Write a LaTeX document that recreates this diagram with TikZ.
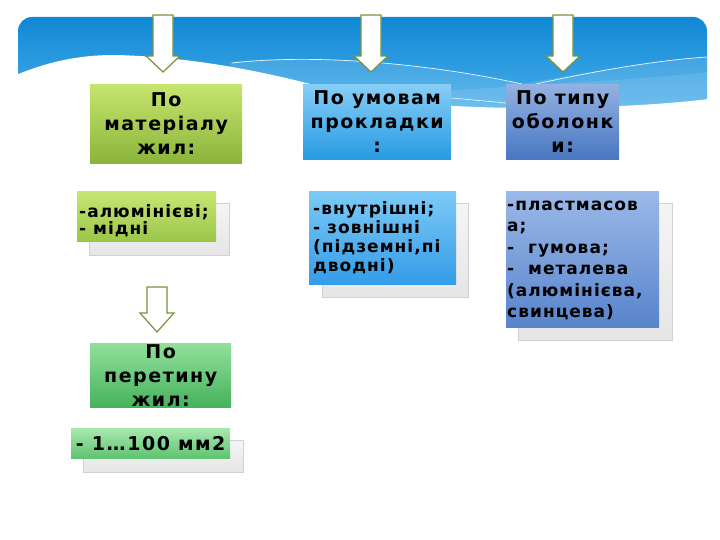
\documentclass[tikz,border=0pt]{standalone}
\usepackage{fontspec}
\setmainfont[LetterSpace=6]{DejaVu Sans}
\usetikzlibrary{shadings}
\definecolor{arrowline}{HTML}{77933C}
\definecolor{bannertop}{HTML}{1088D4}
\definecolor{bannerbot}{HTML}{4AAFEB}
\newcommand{\firstline}{\rule{0pt}{13pt}}
\tikzset{
  hdr/.style={rectangle, inner sep=0pt, anchor=north west, align=center,
    font=\bfseries\fontsize{19}{24}\selectfont\addfontfeatures{LetterSpace=8}, text=black},
  itembox/.style={rectangle, inner sep=0pt, anchor=north west},
  itemtext/.style={inner sep=0pt, anchor=north west, align=left, text=black},
  ghost/.style={rectangle, inner sep=0pt, anchor=north west, draw=black!18, line width=0.8pt,
    top color=black!4, bottom color=black!10},
  blockarrow/.style={draw=arrowline, fill=white, line width=1.2pt, line join=miter}
}
\newcommand{\blkarrow}[4]{% x center, y top, y shaft end, y tip
  \draw[blockarrow] (#1-10,#2) -- (#1+10,#2) -- (#1+10,#3) -- (#1+17,#3) -- (#1,#4)
    -- (#1-17,#3) -- (#1-10,#3) -- cycle;}
\begin{document}
\begin{tikzpicture}[x=1pt,y=-1pt]
\useasboundingbox (0,0) rectangle (720,540);
\fill[white] (0,0) rectangle (720,540);
% banner
\shade[top color=bannertop, bottom color=bannerbot, rounded corners=14pt]
  (18,112) -- (18,17) -- (707,17) -- (707,112) [sharp corners] -- cycle;
% lighter bands
\fill[white, opacity=0.12] (230,62) .. controls (350,52) and (450,70) .. (522,84)
  .. controls (600,70) and (660,60) .. (707,57) -- (707,112) -- (230,112) -- cycle;
\fill[white, opacity=0.10] (400,95) .. controls (500,85) and (620,82) .. (707,72) -- (707,112) -- (400,112) -- cycle;
\draw[white, line width=0.7pt, opacity=0.9] (232,63) .. controls (330,52) and (450,68) .. (522,84);
\draw[white, line width=0.7pt, opacity=0.9] (536,84) .. controls (600,70) and (660,60) .. (707,57);
\draw[white, line width=0.7pt, opacity=0.8] (451,98) .. controls (520,104) and (600,112) .. (650,117);
% white wave at the lower left and the bottom edge
\fill[white] (16,75) .. controls (50,61) and (80,55) .. (115,55)
  .. controls (200,57) and (280,75) .. (340,92)
  .. controls (420,112) and (600,112) .. (709,99) -- (709,125) -- (16,125) -- cycle;
% top arrows
\blkarrow{163}{15}{56}{72}
\blkarrow{371}{15}{56}{72}
\blkarrow{563}{15}{56}{72}
% headers
\node[hdr, top color={rgb,255:red,198;green,229;blue,110},
  bottom color={rgb,255:red,140;green,180;blue,58},
  minimum width=152pt, minimum height=79pt] (h1) at (90,84) {По\\матеріалу\\жил:};
\node[hdr, top color={rgb,255:red,135;green,206;blue,246},
  bottom color={rgb,255:red,40;green,155;blue,228},
  minimum width=148pt, minimum height=75pt] (h2) at (303,84) {По умовам\\прокладки\\:};
\node[hdr, top color={rgb,255:red,148;green,178;blue,226},
  bottom color={rgb,255:red,72;green,118;blue,192},
  minimum width=113pt, minimum height=75pt] (h3) at (506,84) {По типу\\оболонк\\и:};
% row 2, column 1
\node[ghost, minimum width=140pt, minimum height=52pt] (g1) at (89,203) {};
\node[itembox, top color={rgb,255:red,200;green,230;blue,115},
  bottom color={rgb,255:red,155;green,198;blue,75},
  minimum width=139pt, minimum height=50pt] (b1) at (77,191) {};
\node[itemtext, font=\bfseries\fontsize{17}{17}\selectfont] (t1) at (79,204)
  {\firstline-алюмінієві;\\- мідні};
% row 2, column 2
\node[ghost, minimum width=146pt, minimum height=94pt] (g2) at (322,203) {};
\node[itembox, top color={rgb,255:red,125;green,202;blue,246},
  bottom color={rgb,255:red,52;green,156;blue,232},
  minimum width=147pt, minimum height=93pt] (b2) at (309,191) {};
\node[itemtext, font=\bfseries\fontsize{17}{19}\selectfont] (t2) at (313,201)
  {\firstline-внутрішні;\\- зовнішні\\(підземні,пі\\дводні)};
% row 2, column 3
\node[ghost, minimum width=154pt, minimum height=137pt] (g3) at (518,203) {};
\node[itembox, top color={rgb,255:red,155;green,185;blue,232},
  bottom color={rgb,255:red,88;green,132;blue,204},
  minimum width=153pt, minimum height=136pt] (b3) at (506,191) {};
\node[itemtext, font=\bfseries\fontsize{17}{21.5}\selectfont] (t3) at (507,197)
  {\firstline-пластмасов\\а;\\-\ \ гумова;\\-\ \ металева\\(алюмінієва,\\свинцева)};
% lower arrow and section
\blkarrow{157}{287}{313}{332}
\node[hdr, top color={rgb,255:red,145;green,224;blue,155},
  bottom color={rgb,255:red,70;green,178;blue,92},
  minimum width=141pt, minimum height=64pt] (h4) at (90,343) {По\\перетину\\жил:};
\node[ghost, minimum width=160pt, minimum height=32pt] (g4) at (83,440) {};
\node[hdr, top color={rgb,255:red,168;green,232;blue,175},
  bottom color={rgb,255:red,95;green,195;blue,112},
  minimum width=159pt, minimum height=30pt] (b4) at (71,428) {- 1…100 мм2};
\end{tikzpicture}
\end{document}
